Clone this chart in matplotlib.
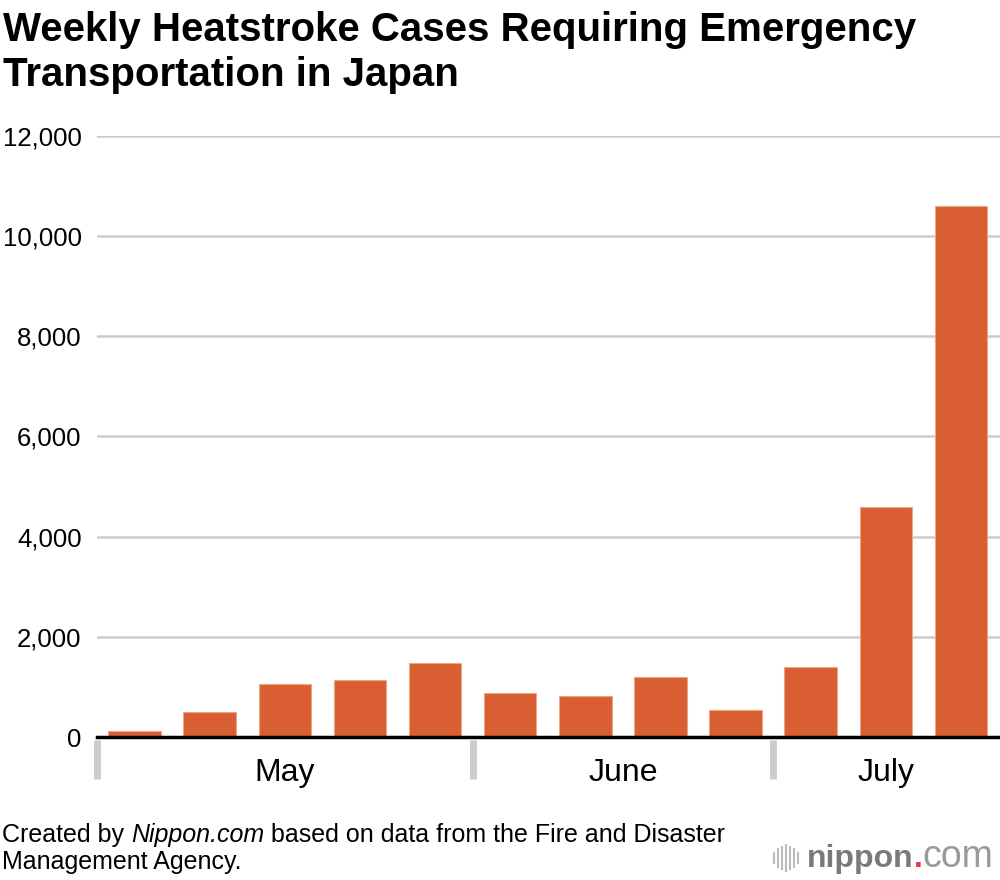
import numpy as np
import matplotlib.pyplot as plt
from matplotlib.transforms import blended_transform_factory

plt.rcParams['font.family'] = ['Liberation Sans', 'DejaVu Sans']

# weekly heatstroke cases, May -> July
cases = [120, 490, 1060, 1130, 1470, 880, 810, 1190, 530, 1390, 4590, 10600]
months = ['May', 'June', 'July']
month_weeks = [5, 4, 3]
yticks = [0, 2000, 4000, 6000, 8000, 10000, 12000]

bar_color = '#d95f33'

fig = plt.figure(figsize=(10, 8.8), dpi=100)
ax = fig.add_axes([0.097, 0.1625, 0.903, 0.683])

x = np.arange(len(cases))
ax.bar(x, cases, width=0.7, color=bar_color, edgecolor='#eaa58a', linewidth=0.8, zorder=3)

ax.set_xlim(-0.5, len(cases) - 0.48)
ax.set_ylim(0, 12000)
ax.set_yticks(yticks)
ax.set_yticklabels(['{:,}'.format(v) for v in yticks], fontsize=18.5)
ax.tick_params(axis='y', length=0, pad=11)
ax.set_xticks([])
ax.yaxis.grid(True, color='#cccccc', linewidth=1.8, zorder=0)
for s in ax.spines.values():
    s.set_visible(False)
ax.axhline(0, color='black', linewidth=2.5, zorder=4, clip_on=False)

# month separators and labels
trans = blended_transform_factory(ax.transData, ax.transAxes)
edges = np.concatenate([[0], np.cumsum(month_weeks)]) - 0.5
for e in edges[:-1]:
    ax.plot([e, e], [-0.005, -0.07], color='#cccccc', linewidth=5,
            transform=trans, clip_on=False, solid_capstyle='butt')
for i, m in enumerate(months):
    mid = (edges[i] + edges[i + 1]) / 2
    ax.text(mid, -0.06, m, transform=trans, ha='center', va='center', fontsize=23)

fig.text(0.003, 0.988, 'Weekly Heatstroke Cases Requiring Emergency\nTransportation in Japan',
         fontsize=29, fontweight='bold', va='top', ha='left', linespacing=1.25)

renderer = fig.canvas.get_renderer()


def chain(pieces, x0, y, **kw):
    # place text pieces one after another on the same baseline
    xx = x0
    for s, extra in pieces:
        t = fig.text(xx, y, s, va='baseline', ha='left', **kw, **extra)
        bb = t.get_window_extent(renderer)
        xx = fig.transFigure.inverted().transform((bb.x1, 0))[0]


chain([('Created by ', {}), ('Nippon.com', {'style': 'italic'}),
       (' based on data from the Fire and Disaster', {})], 0.002, 1 - 842 / 880, fontsize=18)
fig.text(0.002, 1 - 869 / 880, 'Management Agency.', fontsize=18, va='baseline', ha='left')

# logo
for i, h in enumerate([0.012, 0.02, 0.026, 0.03, 0.026, 0.02, 0.012]):
    xx = 0.774 + i * 0.004
    fig.add_artist(plt.Line2D([xx, xx], [0.025 - h / 2, 0.025 + h / 2], color='#bbbbbb', linewidth=1.5))
chain([('nippon', {'fontweight': 'bold', 'color': '#7a7a7a', 'fontsize': 23}),
       ('.', {'fontweight': 'bold', 'color': '#e8383d', 'fontsize': 23}),
       ('com', {'color': '#9a9a9a', 'fontsize': 27})], 0.807, 1 - 867 / 880)

fig.savefig('out.png', dpi=100)
